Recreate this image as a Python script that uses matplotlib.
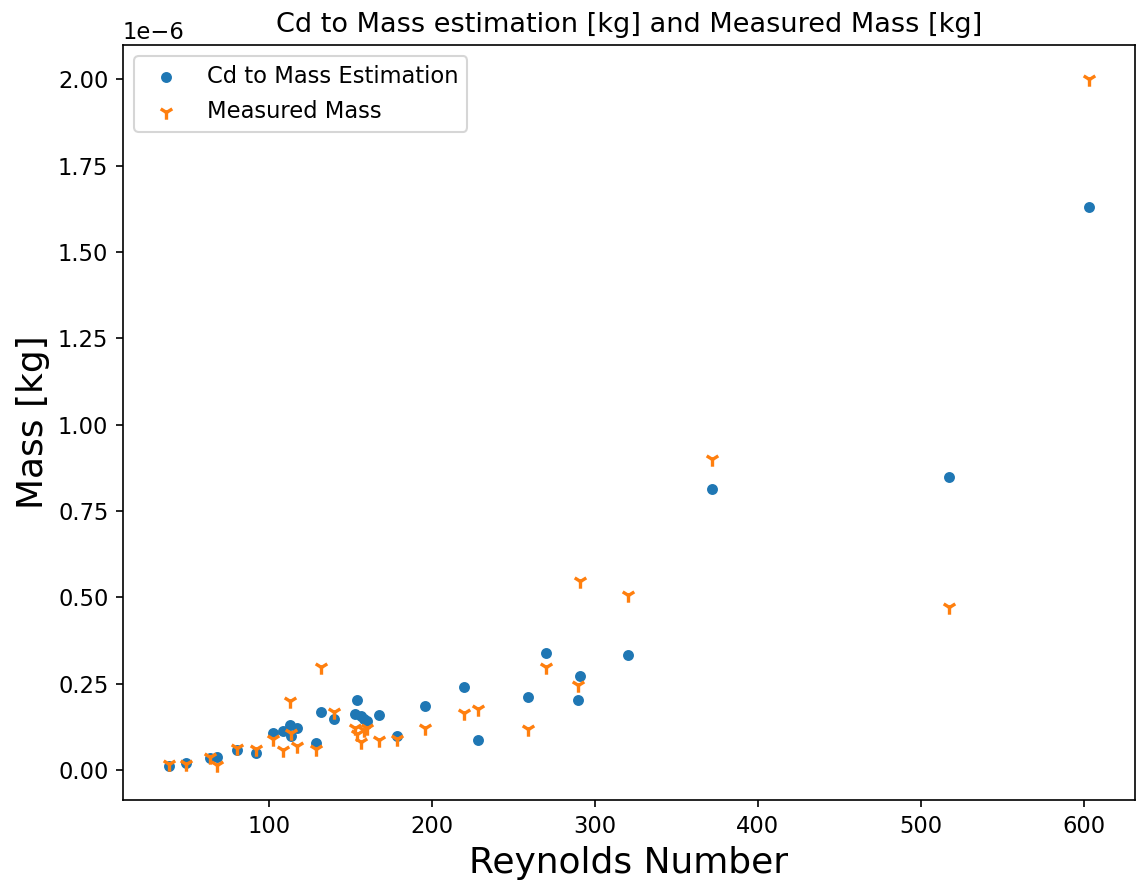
import numpy as np
import matplotlib
matplotlib.use('Agg')
import matplotlib.pyplot as plt

# Reynolds number of each sample
reynolds = [38.9, 49.2, 64.1, 68.2, 80.8, 92.0, 102.9, 108.8, 113.0, 113.8,
            117.3, 129.0, 132.0, 140.0, 152.9, 153.9, 156.9, 158.5, 160.4, 167.9,
            178.7, 196.1, 220.0, 228.1, 258.9, 269.9, 289.9, 290.9, 320.1, 371.7,
            517.4, 603.1]

# estimated mass from Cd (x1e-6 kg)
mass_est = [0.012, 0.021, 0.034, 0.037, 0.058, 0.048, 0.108, 0.112, 0.130, 0.097,
            0.121, 0.079, 0.168, 0.148, 0.162, 0.201, 0.155, 0.148, 0.140, 0.159,
            0.099, 0.184, 0.240, 0.087, 0.211, 0.338, 0.201, 0.272, 0.333, 0.812,
            0.849, 1.629]

# measured mass (x1e-6 kg)
mass_meas = [0.017, 0.017, 0.037, 0.014, 0.063, 0.060, 0.089, 0.058, 0.199, 0.108,
             0.068, 0.061, 0.298, 0.167, 0.121, 0.105, 0.082, 0.115, 0.121, 0.087,
             0.089, 0.121, 0.166, 0.176, 0.119, 0.298, 0.246, 0.546, 0.507, 0.901,
             0.472, 2.000]

plt.rcParams['font.size'] = 10.85

fig = plt.figure(figsize=(1139/150, 885/150), dpi=150)
ax = fig.add_axes([123/1139, 1-800/885, (1135-123)/1139, (800-45)/885])

ax.scatter(reynolds, np.array(mass_est)*1e-6, s=18, label='Cd to Mass Estimation')
ax.scatter(reynolds, np.array(mass_meas)*1e-6, marker='1', s=48, linewidths=1.6,
           label='Measured Mass')

ax.set_title('Cd to Mass estimation [kg] and Measured Mass [kg]', fontsize=13)
ax.set_xlabel('Reynolds Number', fontsize=17.3)
ax.set_ylabel('Mass [kg]', fontsize=17.3)
ax.legend(loc='upper left')

fig.savefig('out.png', dpi=150)
